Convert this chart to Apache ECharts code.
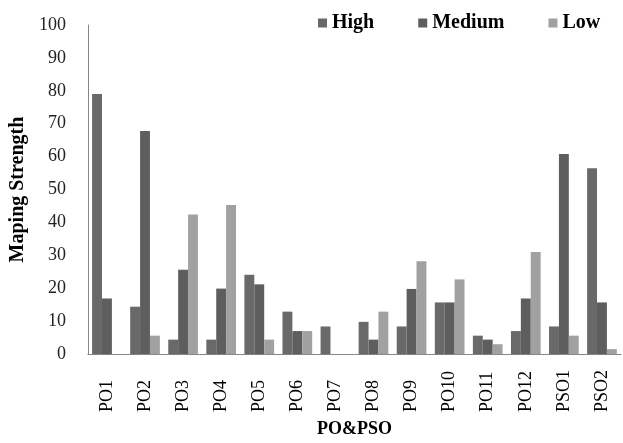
<!DOCTYPE html>
<html>
<head>
<meta charset="utf-8">
<script src="https://cdn.jsdelivr.net/npm/echarts@6/dist/echarts.min.js"></script>
<style>html,body{margin:0;padding:0;background:#fff}#c{width:623px;height:443px}</style>
</head>
<body>
<div id="c"></div>
<script>
var categories = ['PO1','PO2','PO3','PO4','PO5','PO6','PO7','PO8','PO9','PO10','PO11','PO12','PSO1','PSO2'];
var highValues   = [79, 14.4, 4.4, 4.4, 24.1, 12.9, 8.4, 9.8, 8.4, 15.7, 5.6, 7.0, 8.4, 56.5];
var mediumValues = [16.9, 67.8, 25.6, 19.9, 21.2, 7.0, 0, 4.4, 19.8, 15.7, 4.4, 16.9, 60.8, 15.7];
var lowValues    = [0, 5.6, 42.4, 45.3, 4.4, 7.0, 0, 12.9, 28.2, 22.7, 3.0, 31.0, 5.6, 1.5];
var yTicks = [0, 10, 20, 30, 40, 50, 60, 70, 80, 90, 100];

var serif = '"Liberation Serif", "Times New Roman", serif';
var chart = echarts.init(document.getElementById('c'));
chart.setOption({
  animation: false,
  backgroundColor: '#ffffff',
  legend: {
    left: 313, top: 8,
    itemWidth: 9, itemHeight: 9, itemGap: 44,
    icon: 'rect',
    textStyle: { fontFamily: serif, fontWeight: 'bold', fontSize: 20, color: '#000' },
    data: ['High', 'Medium', 'Low']
  },
  grid: { left: 84, right: 2, top: 25, bottom: 86, containLabel: false },
  xAxis: {
    type: 'category',
    data: categories,
    name: 'PO&PSO',
    nameLocation: 'middle',
    nameGap: 62,
    nameTextStyle: { fontFamily: serif, fontWeight: 'bold', fontSize: 18, color: '#000' },
    axisLine: { lineStyle: { color: '#868686', width: 1 } },
    axisTick: { show: false },
    axisLabel: {
      rotate: 90, align: 'left', verticalAlign: 'middle', margin: 58,
      interval: 0,
      fontFamily: serif, fontSize: 18, color: '#000'
    }
  },
  yAxis: {
    type: 'value',
    min: yTicks[0], max: yTicks[yTicks.length - 1], interval: 10,
    name: 'Maping Strength',
    nameLocation: 'middle',
    nameGap: 54,
    nameTextStyle: { fontFamily: serif, fontWeight: 'bold', fontSize: 20, color: '#000' },
    axisLine: { show: true, lineStyle: { color: '#868686', width: 1 } },
    axisTick: { show: false },
    splitLine: { show: false },
    axisLabel: { margin: 22, fontFamily: serif, fontSize: 18, color: '#222' }
  },
  series: [
    { name: 'High', type: 'bar', data: highValues, barGap: '0%', barCategoryGap: '22%', itemStyle: { color: '#696969' } },
    { name: 'Medium', type: 'bar', data: mediumValues, barGap: '0%', barCategoryGap: '22%', itemStyle: { color: '#5e5e5e' } },
    { name: 'Low', type: 'bar', data: lowValues, barGap: '0%', barCategoryGap: '22%', itemStyle: { color: '#a1a1a1' } }
  ]
});
</script>
</body>
</html>
